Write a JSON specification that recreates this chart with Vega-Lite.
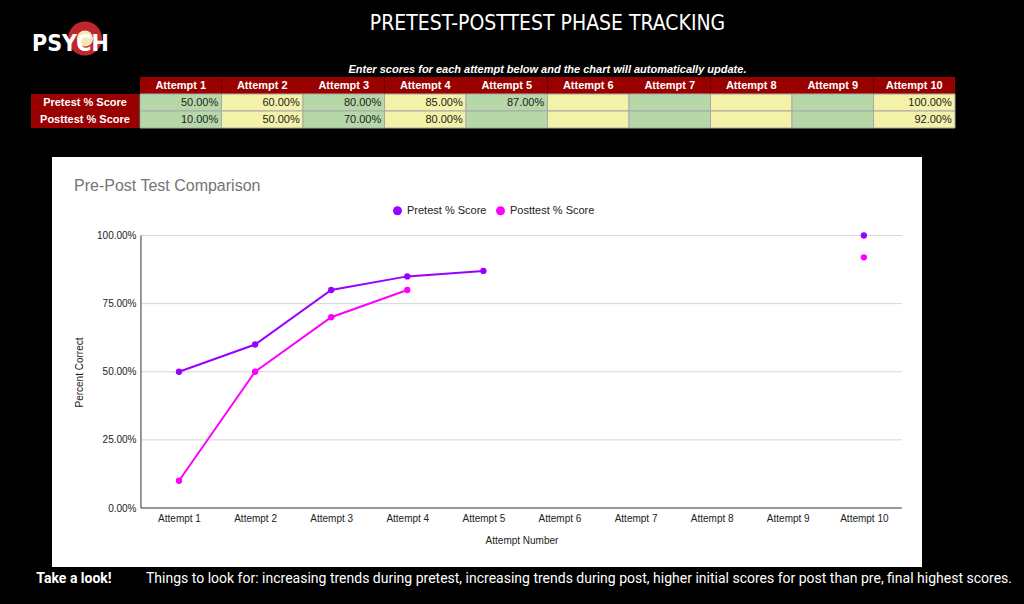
{
  "$schema": "https://vega.github.io/schema/vega-lite/v6.json",
  "background": "#000000",
  "padding": {"left": 0, "top": 0, "right": 0, "bottom": 15},
  "spacing": 0,
  "config": {
    "view": {"stroke": null},
    "concat": {"spacing": 0},
    "axis": {"grid": false, "domain": false, "ticks": false, "tickSize": 0, "labelFont": "Liberation Sans", "labelFontSize": 10, "labelColor": "#222222", "titleFont": "Liberation Sans", "titleFontSize": 10, "titleFontWeight": "normal", "titleColor": "#222222"},
    "text": {"font": "Liberation Sans"}
  },
  "datasets": {
    "scores": [
      {"attempt": "Attempt 1", "n": 1, "series": "Pretest % Score", "score": 0.5},
      {"attempt": "Attempt 2", "n": 2, "series": "Pretest % Score", "score": 0.6},
      {"attempt": "Attempt 3", "n": 3, "series": "Pretest % Score", "score": 0.8},
      {"attempt": "Attempt 4", "n": 4, "series": "Pretest % Score", "score": 0.85},
      {"attempt": "Attempt 5", "n": 5, "series": "Pretest % Score", "score": 0.87},
      {"attempt": "Attempt 6", "n": 6, "series": "Pretest % Score", "score": null},
      {"attempt": "Attempt 7", "n": 7, "series": "Pretest % Score", "score": null},
      {"attempt": "Attempt 8", "n": 8, "series": "Pretest % Score", "score": null},
      {"attempt": "Attempt 9", "n": 9, "series": "Pretest % Score", "score": null},
      {"attempt": "Attempt 10", "n": 10, "series": "Pretest % Score", "score": 1.0},
      {"attempt": "Attempt 1", "n": 1, "series": "Posttest % Score", "score": 0.1},
      {"attempt": "Attempt 2", "n": 2, "series": "Posttest % Score", "score": 0.5},
      {"attempt": "Attempt 3", "n": 3, "series": "Posttest % Score", "score": 0.7},
      {"attempt": "Attempt 4", "n": 4, "series": "Posttest % Score", "score": 0.8},
      {"attempt": "Attempt 5", "n": 5, "series": "Posttest % Score", "score": null},
      {"attempt": "Attempt 6", "n": 6, "series": "Posttest % Score", "score": null},
      {"attempt": "Attempt 7", "n": 7, "series": "Posttest % Score", "score": null},
      {"attempt": "Attempt 8", "n": 8, "series": "Posttest % Score", "score": null},
      {"attempt": "Attempt 9", "n": 9, "series": "Posttest % Score", "score": null},
      {"attempt": "Attempt 10", "n": 10, "series": "Posttest % Score", "score": 0.92}
    ],
    "gridlines": [{"g": 0.25, "a": 0.5, "b": 10.5}, {"g": 0.5, "a": 0.5, "b": 10.5}, {"g": 0.75, "a": 0.5, "b": 10.5}, {"g": 1, "a": 0.5, "b": 10.5}],
    "one": [{"k": 1}]
  },
  "vconcat": [
    {
      "spacing": 0,
      "hconcat": [
        {"width": 31, "height": 128, "data": {"name": "one"}, "mark": {"type": "text", "text": ""}, "encoding": {}},
        {
          "spacing": 0,
          "vconcat": [
            {
              "width": 108, "height": 77, "data": {"name": "one"},
              "layer": [
                {"mark": {"type": "point", "shape": "circle", "filled": true, "color": "#c0262d", "size": 1150, "opacity": 1}, "encoding": {}},
                {"mark": {"type": "point", "shape": "circle", "filled": true, "color": "#f3e7b5", "size": 260, "opacity": 1}, "encoding": {}},
                {"mark": {"type": "text", "text": "PSYCH", "font": "DejaVu Sans Condensed, Roboto, sans-serif", "fontWeight": "bold", "fontSize": 23, "color": "#ffffff", "align": "left", "dx": -53, "dy": 5}, "encoding": {}}
              ]
            },
            {
              "width": 108, "height": 51, "data": {"name": "scores"},
              "transform": [{"filter": "datum.n == 1"}],
              "encoding": {
                "y": {"field": "series", "type": "nominal", "scale": {"domain": ["header", "Pretest % Score", "Posttest % Score"], "paddingInner": 0, "paddingOuter": 0}, "axis": null}
              },
              "layer": [
                {"mark": {"type": "rect", "fill": "#990000"}},
                {"mark": {"type": "text", "color": "#ffffff", "fontWeight": "bold", "fontSize": 11}, "encoding": {"text": {"field": "series"}}}
              ]
            }
          ]
        },
        {
          "spacing": 0,
          "vconcat": [
            {"width": 815, "height": 50, "data": {"name": "one"}, "mark": {"type": "text", "text": "PRETEST-POSTTEST PHASE TRACKING", "font": "DejaVu Sans Condensed, Roboto, sans-serif", "fontSize": 21, "color": "#ffffff", "baseline": "middle", "dy": -1}, "encoding": {}},
            {"width": 815, "height": 27, "data": {"name": "one"}, "mark": {"type": "text", "text": "Enter scores for each attempt below and the chart will automatically update.", "fontSize": 11, "fontWeight": "bold", "fontStyle": "italic", "color": "#ffffff", "baseline": "top"}, "encoding": {}},
            {
              "width": 815, "height": 51, "data": {"name": "scores"},
              "layer": [
                {
                  "transform": [{"filter": "datum.series == 'Pretest % Score'"}],
                  "mark": {"type": "rect", "fill": "#990000"},
                  "encoding": {
                    "x": {"field": "attempt", "type": "nominal", "scale": {"domain": ["Attempt 1", "Attempt 2", "Attempt 3", "Attempt 4", "Attempt 5", "Attempt 6", "Attempt 7", "Attempt 8", "Attempt 9", "Attempt 10"], "paddingInner": 0, "paddingOuter": 0}, "axis": null},
                    "y": {"datum": "header", "type": "nominal", "scale": {"domain": ["header", "Pretest % Score", "Posttest % Score"], "paddingInner": 0, "paddingOuter": 0}, "axis": null}
                  }
                },
                {
                  "transform": [{"filter": "datum.series == 'Pretest % Score'"}],
                  "mark": {"type": "text", "color": "#ffffff", "fontWeight": "bold", "fontSize": 11},
                  "encoding": {
                    "x": {"field": "attempt", "type": "nominal"},
                    "y": {"datum": "header", "type": "nominal"},
                    "text": {"field": "attempt"}
                  }
                },
                {
                  "mark": {"type": "rect", "stroke": "#a8a8a8", "strokeWidth": 1},
                  "encoding": {
                    "x": {"field": "attempt", "type": "nominal"},
                    "y": {"field": "series", "type": "nominal"},
                    "fill": {"field": "attempt", "type": "nominal", "legend": null, "scale": {"domain": ["Attempt 1", "Attempt 2", "Attempt 3", "Attempt 4", "Attempt 5", "Attempt 6", "Attempt 7", "Attempt 8", "Attempt 9", "Attempt 10"], "range": ["#b6d7a8", "#f4f1a9", "#b6d7a8", "#f4f1a9", "#b6d7a8", "#f4f1a9", "#b6d7a8", "#f4f1a9", "#b6d7a8", "#f4f1a9"]}}
                  }
                },
                {
                  "transform": [{"filter": "datum.score != null"}],
                  "mark": {"type": "text", "align": "right", "fontSize": 11, "color": "#222222"},
                  "encoding": {
                    "x": {"field": "attempt", "type": "nominal", "bandPosition": 0.96},
                    "y": {"field": "series", "type": "nominal"},
                    "text": {"field": "score", "type": "quantitative", "format": ".2%"}
                  }
                }
              ]
            }
          ]
        }
      ]
    },
    {"width": 10, "height": 28, "data": {"name": "one"}, "mark": {"type": "text", "text": ""}, "encoding": {}},
    {
      "spacing": 0,
      "hconcat": [
        {"width": 52, "height": 410, "data": {"name": "one"}, "mark": {"type": "text", "text": ""}, "encoding": {}},
        {
          "width": 870, "height": 410,
          "view": {"fill": "#ffffff", "stroke": null},
          "title": {"text": "Pre-Post Test Comparison", "anchor": "start", "frame": "group", "orient": "top", "offset": -50, "dx": 22, "baseline": "alphabetic", "font": "Liberation Sans", "fontSize": 16, "fontWeight": "normal", "color": "#757575"},
          "layer": [
            {
              "data": {"name": "gridlines"},
              "mark": {"type": "rule", "color": "#d6d6d6", "strokeWidth": 1},
              "encoding": {
                "x": {"field": "a", "type": "quantitative", "scale": {"domain": [-0.669, 10.764], "nice": false, "zero": false}},
                "x2": {"field": "b"},
                "y": {"field": "g", "type": "quantitative", "scale": {"domain": [-0.2165, 1.2881], "nice": false, "zero": false}}
              }
            },
            {
              "data": {"name": "one"},
              "mark": {"type": "rule", "color": "#333333", "strokeWidth": 1},
              "encoding": {"x": {"datum": 0.5, "type": "quantitative"}, "x2": {"datum": 10.5}, "y": {"datum": 0, "type": "quantitative"}}
            },
            {
              "data": {"name": "one"},
              "mark": {"type": "rule", "color": "#333333", "strokeWidth": 1},
              "encoding": {"x": {"datum": 0.5, "type": "quantitative"}, "y": {"datum": 0, "type": "quantitative"}, "y2": {"datum": 1}}
            },
            {
              "data": {"name": "scores"},
              "mark": {"type": "line", "strokeWidth": 2, "invalid": "break-paths-filter-domains"},
              "encoding": {
                "x": {"field": "n", "type": "quantitative",
                  "axis": {"values": [1, 2, 3, 4, 5, 6, 7, 8, 9, 10], "labelExpr": "'Attempt ' + datum.value", "offset": -59, "labelPadding": 5, "labelFlush": false, "labelOverlap": false, "title": "Attempt Number", "titleX": 469.5, "titleY": 32, "titleBaseline": "middle"}},
                "y": {"field": "score", "type": "quantitative",
                  "axis": {"values": [0, 0.25, 0.5, 0.75, 1], "format": ".2%", "offset": -89, "labelPadding": 5, "labelFlush": false, "title": "Percent Correct", "titleX": -62, "titleY": 215, "titleBaseline": "middle", "titleAlign": "center", "titleAngle": -90}},
                "color": {"field": "series", "type": "nominal", "scale": {"domain": ["Pretest % Score", "Posttest % Score"], "range": ["#9900ff", "#ff00ff"]},
                  "legend": {"orient": "none", "legendX": 392, "legendY": 205, "direction": "horizontal", "title": null, "symbolType": "circle", "symbolSize": 80, "symbolStrokeWidth": 0, "labelFont": "Liberation Sans", "labelFontSize": 11, "labelColor": "#222222", "labelOffset": 4, "columnPadding": 8}}
              }
            },
            {
              "data": {"name": "scores"},
              "mark": {"type": "point", "filled": true, "size": 40, "opacity": 1},
              "encoding": {
                "x": {"field": "n", "type": "quantitative"},
                "y": {"field": "score", "type": "quantitative"},
                "color": {"field": "series", "type": "nominal"}
              }
            }
          ]
        }
      ]
    },
    {
      "spacing": 0,
      "hconcat": [
        {"width": 142, "height": 23, "data": {"name": "one"}, "mark": {"type": "text", "text": "Take a look!", "font": "Roboto", "fontWeight": "bold", "fontSize": 14, "color": "#ffffff", "dx": 3}, "encoding": {}},
        {"width": 882, "height": 23, "data": {"name": "one"}, "mark": {"type": "text", "text": "Things to look for: increasing trends during pretest, increasing trends during post, higher initial scores for post than pre, final highest scores.", "font": "Roboto", "fontSize": 14, "color": "#ffffff", "dx": -4}, "encoding": {}}
      ]
    }
  ]
}
